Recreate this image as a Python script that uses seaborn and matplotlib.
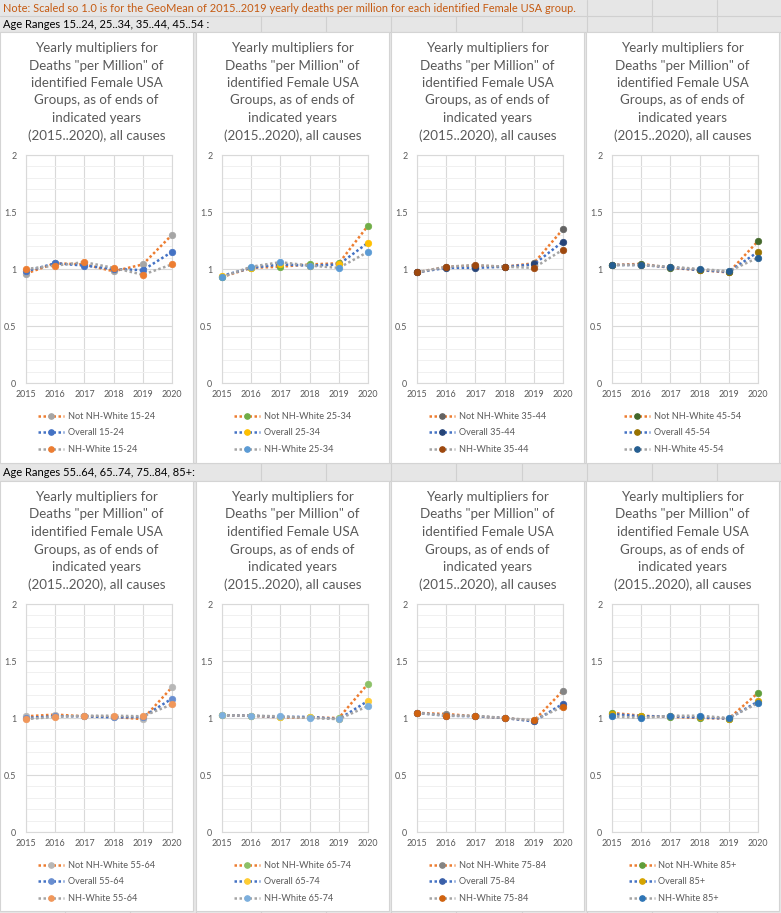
import numpy as np
import pandas as pd
import matplotlib
matplotlib.use("Agg")
import matplotlib.pyplot as plt
import seaborn as sns
from matplotlib.lines import Line2D
from matplotlib.patches import Rectangle

# ---------------- data ----------------
years = [2015, 2016, 2017, 2018, 2019, 2020]
age_groups = ["15-24", "25-34", "35-44", "45-54", "55-64", "65-74", "75-84", "85+"]
series_names = ["Not NH-White", "Overall", "NH-White"]

not_nh_white = [
    [0.96, 1.05, 1.04, 0.98, 1.04, 1.30],
    [0.93, 1.01, 1.02, 1.04, 1.05, 1.38],
    [0.97, 1.02, 1.03, 1.02, 1.05, 1.35],
    [1.035, 1.045, 1.01, 0.99, 0.97, 1.245],
    [1.015, 1.03, 1.015, 1.01, 0.99, 1.27],
    [1.025, 1.02, 1.005, 1.005, 1.00, 1.30],
    [1.045, 1.035, 1.015, 1.00, 0.975, 1.24],
    [1.045, 1.02, 1.01, 1.00, 0.995, 1.22],
]
overall = [
    [0.98, 1.05, 1.03, 1.00, 0.99, 1.15],
    [0.94, 1.01, 1.04, 1.03, 1.04, 1.23],
    [0.97, 1.01, 1.01, 1.02, 1.04, 1.24],
    [1.035, 1.035, 1.015, 0.99, 0.975, 1.15],
    [1.00, 1.015, 1.015, 1.005, 1.01, 1.17],
    [1.025, 1.02, 1.01, 1.01, 0.99, 1.15],
    [1.045, 1.02, 1.015, 1.00, 0.97, 1.125],
    [1.035, 1.015, 1.015, 1.005, 0.995, 1.145],
]
nh_white = [
    [1.00, 1.03, 1.06, 1.01, 0.95, 1.04],
    [0.93, 1.02, 1.06, 1.03, 1.01, 1.15],
    [0.97, 1.02, 1.035, 1.02, 1.01, 1.17],
    [1.035, 1.035, 1.02, 1.00, 0.98, 1.10],
    [0.99, 1.01, 1.02, 1.02, 1.015, 1.12],
    [1.025, 1.02, 1.015, 1.00, 0.99, 1.105],
    [1.045, 1.02, 1.02, 1.00, 0.98, 1.10],
    [1.015, 1.00, 1.02, 1.02, 1.00, 1.13],
]
y_ticks = [0, 0.5, 1, 1.5, 2]
y_tick_labels = ["0", "0.5", "1", "1.5", "2"]
title_lines = ["Yearly multipliers for", 'Deaths "per Million" of', "identified Female USA",
               "Groups, as of ends of", "indicated years", "(2015..2020), all causes"]
note_text = "Note: Scaled so 1.0 is for the GeoMean of 2015..2019 yearly deaths per million for each identified Female USA group."
row_labels = ["Age Ranges 15..24, 25..34, 35..44, 45..54 :", "Age Ranges 55..64, 65..74, 75..84, 85+:"]

# ---------------- style ----------------
line_colors = ["#ED7D31", "#4472C4", "#A5A5A5"]
marker_colors = [
    ["#A5A5A5", "#4472C4", "#ED7D31"],
    ["#70AD47", "#FFC000", "#5B9BD5"],
    ["#636363", "#264478", "#9E480E"],
    ["#43682B", "#997300", "#255E91"],
    ["#B7B7B7", "#698ED0", "#F1975A"],
    ["#8CC168", "#FFCD33", "#7CAFDD"],
    ["#848484", "#3A5FA8", "#D0620F"],
    ["#5F9E3A", "#D6A400", "#2E75B6"],
]
TXT = "#595959"

sns.set_style("white")
plt.rcParams["font.family"] = ["Lato", "DejaVu Sans"]

W, H = 781, 913
fig = plt.figure(figsize=(W / 100, H / 100), dpi=100)
fig.patch.set_facecolor("#E6E6E6")

def fx(x):
    return x / W

def fy(y):
    return 1 - y / H

def hline(y, x1, x2, c="#D0D0D0"):
    fig.add_artist(Line2D([fx(x1), fx(x2)], [fy(y), fy(y)], transform=fig.transFigure,
                          color=c, lw=0.8, zorder=0))

def vline(x, y1, y2, c="#D0D0D0"):
    fig.add_artist(Line2D([fx(x), fx(x)], [fy(y1), fy(y2)], transform=fig.transFigure,
                          color=c, lw=0.8, zorder=0))

col_w = 65.2
# spreadsheet grid
hline(16, 0, W)
hline(32, 0, W)
hline(463, 0, W)
hline(481, 0, W)
for k in range(1, 12):
    x = k * col_w
    if x > 582:
        vline(x, 0, 16)
    if x > 215:
        vline(x, 16, 32)
    if x > 196:
        vline(x, 463, 481)
    vline(x, 911, 913)

fig.text(fx(3), fy(8), note_text, color="#C55A11", fontsize=7.9, ha="left", va="center")
fig.text(fx(3), fy(24), row_labels[0], color="black", fontsize=8.0, ha="left", va="center")
fig.text(fx(3), fy(472), row_labels[1], color="black", fontsize=8.0, ha="left", va="center")

panel_x = [0, 196, 391, 586]
panel_w = 193
row_top = [32, 481]
row_bot = [463, 911]

for i, age in enumerate(age_groups):
    r, c = divmod(i, 4)
    px0 = panel_x[c]
    off = row_top[r] - 32
    fig.add_artist(Rectangle((fx(px0), fy(row_bot[r])), panel_w / W, (row_bot[r] - row_top[r]) / H,
                             transform=fig.transFigure, facecolor="white", edgecolor="#D4D4D4",
                             lw=0.8, zorder=1))
    cx = px0 + panel_w / 2
    for j, tl in enumerate(title_lines):
        fig.text(fx(cx), fy(48 + off + j * 17.5), tl, color=TXT, fontsize=9.6,
                 ha="center", va="center", zorder=3)

    top_px = 155 + off
    bot_px = 383 + off
    ax = fig.add_axes([fx(px0 + 26), fy(bot_px), 146 / W, (bot_px - top_px) / H])
    ax.set_zorder(2)
    ax.set_facecolor("white")

    vals = [not_nh_white[i], overall[i], nh_white[i]]
    handles = []
    for s in range(3):
        df = pd.DataFrame({"year": years, "value": vals[s]})
        sns.lineplot(data=df, x="year", y="value", ax=ax, color=line_colors[s],
                     linestyle=(0, (1, 1)), lw=1.8, clip_on=False, zorder=3 + s * 2)
        sns.scatterplot(data=df, x="year", y="value", ax=ax, color=marker_colors[i][s],
                        s=22, edgecolor=marker_colors[i][s], linewidth=0.5,
                        clip_on=False, zorder=4 + s * 2)
        handles.append(Line2D([0], [0], color=line_colors[s], ls=(0, (1, 1)), lw=1.8,
                              marker="o", markersize=3.8, markerfacecolor=marker_colors[i][s],
                              markeredgecolor=marker_colors[i][s],
                              label=f"{series_names[s]} {age}"))

    ax.set_xlim(2015, 2020)
    ax.set_ylim(0, 2)
    ax.set_xticks(years)
    ax.set_xticklabels([str(y) for y in years])
    ax.set_yticks(y_ticks)
    ax.set_yticklabels(y_tick_labels)
    ax.set_yticks(np.arange(0, 2.01, 0.1), minor=True)
    ax.tick_params(axis="both", which="both", length=0, labelsize=6.4, labelcolor=TXT)
    ax.tick_params(axis="x", pad=5)
    ax.tick_params(axis="y", pad=7)
    ax.grid(True, which="major", axis="both", color="#D9D9D9", lw=0.8)
    ax.grid(True, which="minor", axis="y", color="#F0F0F0", lw=0.7)
    ax.set_axisbelow(True)
    ax.set_xlabel("")
    ax.set_ylabel("")
    for sp in ax.spines.values():
        sp.set_color("#D9D9D9")
        sp.set_linewidth(0.8)
    if ax.get_legend() is not None:
        ax.get_legend().remove()

    leg = fig.legend(handles=handles, loc="upper center",
                     bbox_to_anchor=(fx(cx), fy(407.5 + off)), frameon=False,
                     fontsize=6.6, labelcolor=TXT, handlelength=2.85, handletextpad=0.35,
                     labelspacing=0.8, borderpad=0, numpoints=1)
    leg.set_zorder(5)

fig.savefig("out.png", dpi=100, facecolor=fig.get_facecolor())
